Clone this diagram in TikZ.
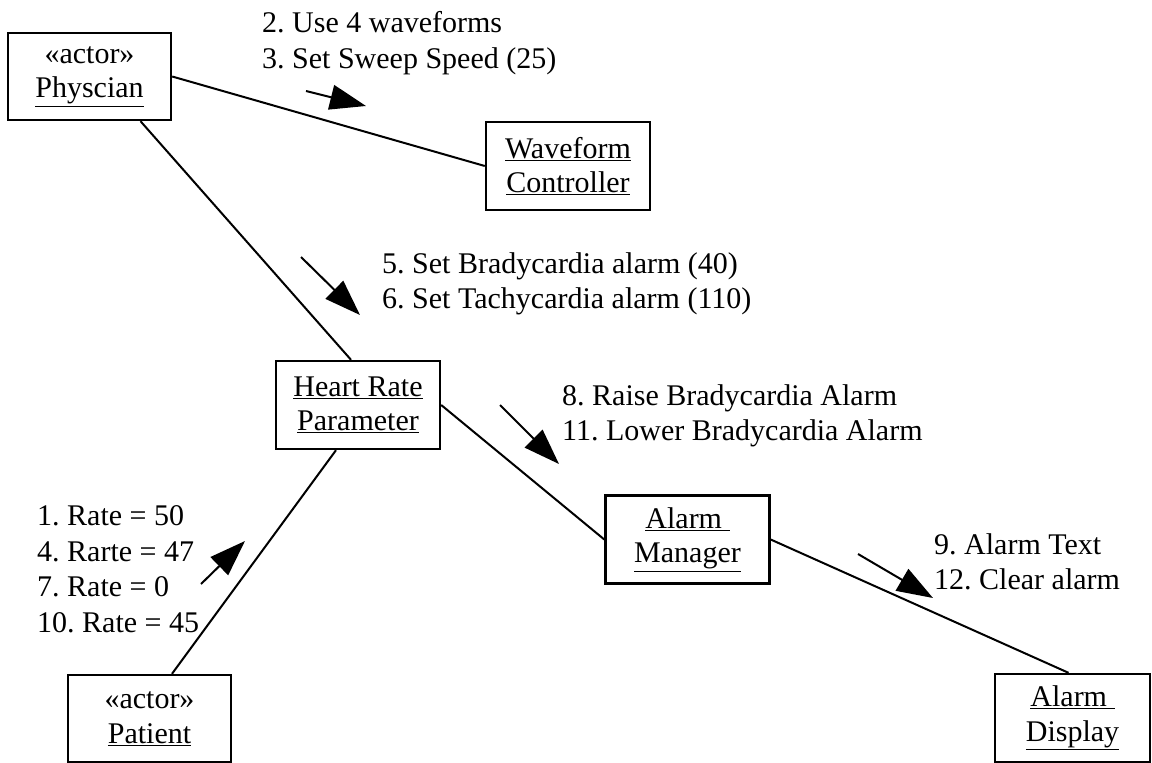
\documentclass[tikz,border=0pt]{standalone}
\usepackage{fontspec}
\setmainfont{Liberation Serif}
\usetikzlibrary{arrows.meta,calc}
\frenchspacing
\begin{document}
\begin{tikzpicture}[x=1pt,y=-1pt,
  obj/.style={draw,line width=2.4pt,rectangle,align=center,inner sep=0pt,
    minimum width=164pt,minimum height=88pt,font=\fontsize{30}{34.5}\selectfont},
  lbl/.style={anchor=base west,inner sep=0pt,font=\fontsize{30}{35}\selectfont},
  link/.style={line width=2pt},
  msg/.style={line width=2pt,-{Triangle[length=36pt,width=25pt]}}]
\useasboundingbox (0,0) rectangle (1152,763);
\node[obj,minimum width=163pt,minimum height=87pt] (phys) at (89.5,76.5) {«actor»\\\underline{Physcian}};
\node[obj] (wave) at (568,166) {\underline{Waveform}\\\underline{Controller}};
\node[obj] (hrp) at (358,405) {\underline{Heart Rate}\\\underline{Parameter}};
\node[obj] (am) at (687.5,539.5) {\underline{Alarm\ }\\\underline{Manager}};
\node[obj,minimum width=163pt,minimum height=87pt] (pat) at (149.5,718.5) {«actor»\\\underline{Patient}};
\node[obj,minimum width=155pt] (ad) at (1072.5,718) {\underline{Alarm\ }\\\underline{Display}};

\draw[link] (phys.east) -- (wave.west);
\draw[link] ([xshift=51pt]phys.south) -- ([xshift=-7pt]hrp.north);
\draw[link] (hrp.east) -- (am.west);
\draw[link] ([xshift=22.5pt]pat.north) -- ([xshift=-22pt]hrp.south);
\draw[link] (am.east) -- ([xshift=-4pt]ad.north);

\coordinate (a1s) at (306,91);  \coordinate (a1e) at (366,106);
\coordinate (a2s) at (301,257); \coordinate (a2e) at (360,315);
\coordinate (a3s) at (500,405); \coordinate (a3e) at (559,464);
\coordinate (a4s) at (201,584); \coordinate (a4e) at (245,541);
\coordinate (a5s) at (858,554); \coordinate (a5e) at (933,598);
\draw[msg] (a1s) -- (a1e);
\draw[msg] (a2s) -- (a2e);
\draw[msg] (a3s) -- (a3e);
\draw[msg] (a4s) -- (a4e);
\draw[msg] (a5s) -- (a5e);

\node[lbl] (l1a) at (262,32) {2. Use 4 waveforms};
\node[lbl] (l1b) at (262,68.5) {3. Set Sweep Speed (25)};
\node[lbl] (l2a) at (382,273) {5. Set Bradycardia alarm (40)};
\node[lbl] (l2b) at (382,308) {6. Set Tachycardia alarm (110)};
\node[lbl] (l3a) at (562,405) {8. Raise Bradycardia Alarm};
\node[lbl] (l3b) at (562,440) {11. Lower Bradycardia Alarm};
\node[lbl] (l4a) at (37,525) {1. Rate = 50};
\node[lbl] (l4b) at (37,561) {4. Rarte = 47};
\node[lbl] (l4c) at (37,596) {7. Rate = 0};
\node[lbl] (l4d) at (37,632) {10. Rate = 45};
\node[lbl] (l5a) at (934,554) {9. Alarm Text};
\node[lbl] (l5b) at (934,589) {12. Clear alarm};
\end{tikzpicture}
\end{document}
